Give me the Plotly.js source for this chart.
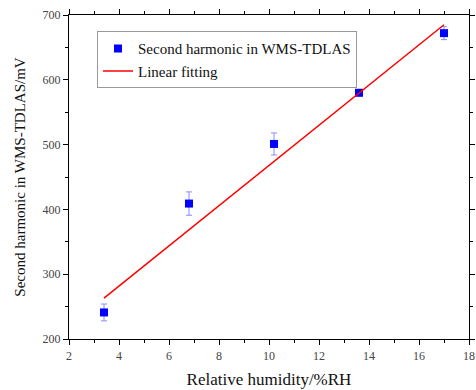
<!DOCTYPE html>
<html><head><meta charset="utf-8">
<script src="https://cdn.plot.ly/plotly-3.0.1.min.js"></script>
<style>html,body{margin:0;padding:0;background:#fff}#c{width:476px;height:390px}</style>
</head><body><div id="c"></div>
<script>
const humidity = [3.4, 6.8, 10.2, 13.6, 17.0];
const harmonic = [241, 409, 501, 580, 672];
const harmonicErr = [13, 18, 17, 5, 10];
const fitX = [3.4, 17.0];
const fitY = [263, 685];
const xTicks = [2, 4, 6, 8, 10, 12, 14, 16, 18];
const yTicks = [200, 300, 400, 500, 600, 700];

const font = 'Liberation Serif, Times New Roman, serif';
const traces = [
  {x: humidity, y: harmonic, type: 'scatter', mode: 'markers', name: 'Second harmonic in WMS-TDLAS',
   marker: {symbol: 'square', size: 8, color: '#0000ff'},
   error_y: {type: 'data', array: harmonicErr, visible: true, color: '#8a8aff', thickness: 1, width: 3}},
  {x: fitX, y: fitY, type: 'scatter', mode: 'lines', name: 'Linear fitting',
   line: {color: '#ff0000', width: 1.5}}
];
const axisCommon = {
  showgrid: false, zeroline: false, showline: true, linecolor: '#000', linewidth: 1.2,
  mirror: 'ticks', ticks: 'outside', ticklen: 5, tickcolor: '#000', tickwidth: 1,
  tickfont: {family: font, size: 12, color: '#444'}
};
const layout = {
  width: 476, height: 390,
  margin: {l: 69, r: 7, t: 15, b: 51},
  paper_bgcolor: '#fff', plot_bgcolor: '#fff',
  font: {family: font},
  showlegend: true,
  legend: {x: 0.07, y: 0.95, xanchor: 'left', yanchor: 'top', bgcolor: '#fff',
    bordercolor: '#999', borderwidth: 1, font: {family: font, size: 15, color: '#111'},
    tracegroupgap: 0, itemwidth: 30},
  xaxis: Object.assign({}, axisCommon, {range: [2, 18], tickvals: xTicks,
    minor: {dtick: 1, ticks: 'outside', ticklen: 3, tickcolor: '#000'},
    title: {text: 'Relative humidity/%RH', font: {family: font, size: 17, color: '#111'}, standoff: 11}}),
  yaxis: Object.assign({}, axisCommon, {range: [200, 700], tickvals: yTicks,
    minor: {dtick: 50, ticks: 'outside', ticklen: 3, tickcolor: '#000'},
    title: {text: 'Second harmonic in WMS-TDLAS/mV', font: {family: font, size: 15, color: '#111'}, standoff: 13}})
};
Plotly.newPlot('c', traces, layout, {displayModeBar: false, staticPlot: true});
</script></body></html>
